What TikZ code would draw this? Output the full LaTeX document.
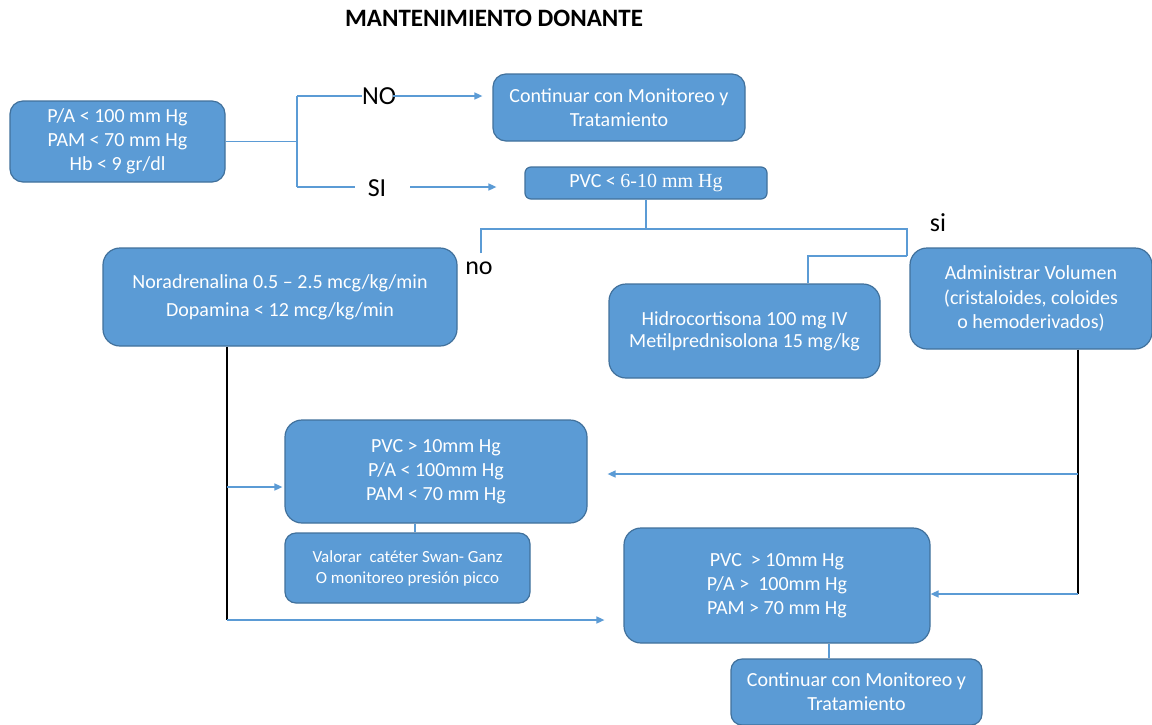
\documentclass[tikz,border=0pt]{standalone}
\usepackage{fontspec}
\setmainfont{Carlito}
\newfontfamily\serifx{Liberation Serif}
\usetikzlibrary{arrows.meta}
\definecolor{boxblue}{HTML}{5B9BD5}
\definecolor{boxedge}{HTML}{41719C}
\definecolor{linkblue}{HTML}{5B9BD5}
\begin{document}
\begin{tikzpicture}[x=1pt,y=-1pt,
  box/.style={draw=boxedge, line width=1.2pt, fill=boxblue, rounded corners=13pt,
    text=white, align=center, inner sep=0pt, font=\fontsize{20}{24}\selectfont},
  link/.style={draw=linkblue, line width=1.5pt},
  arr/.style={link, -{Triangle[length=8pt,width=7pt]}},
  blk/.style={draw=black, line width=1.5pt},
  lbl/.style={font=\fontsize{26}{28}\selectfont, inner sep=0pt}]
\useasboundingbox (0,0) rectangle (1152,724);
\fill[white] (0,0) rectangle (1152,724);

\node[font=\fontsize{25}{28}\selectfont\bfseries, inner sep=0pt] (title) at (494,18) {MANTENIMIENTO DONANTE};

% boxes
\node[box, minimum width=215, minimum height=81] (A) at (117.5,141.5)
  {P/A < 100 mm Hg\\PAM < 70 mm Hg\\Hb < 9 gr/dl};
\node[box, minimum width=252, minimum height=67] (B) at (619,107.5)
  {Continuar con Monitoreo y\\Tratamiento};
\node[box, rounded corners=6pt, minimum width=242, minimum height=32, font=\fontsize{20}{22}\selectfont] (C) at (646,183)
  {PVC < {\serifx 6-10 mm Hg}};
\node[box, rounded corners=17pt, minimum width=354, minimum height=98, font=\fontsize{20}{28}\selectfont] (D) at (280,297)
  {Noradrenalina 0.5 – 2.5 mcg/kg/min\\Dopamina < 12 mcg/kg/min};
\node[box, rounded corners=17pt, minimum width=271, minimum height=94, font=\fontsize{20}{22}\selectfont] (E) at (744.5,331)
  {Hidrocortisona 100 mg IV\\Metilprednisolona 15 mg/kg};
\node[box, rounded corners=17pt, minimum width=242, minimum height=101, font=\fontsize{20}{24.5}\selectfont] (F) at (1031,298.5)
  {Administrar Volumen\\(cristaloides, coloides\\o hemoderivados)};
\node[box, rounded corners=17pt, minimum width=302, minimum height=103] (G) at (436,471.5)
  {PVC > 10mm Hg\\P/A < 100mm Hg\\PAM < 70 mm Hg};
\node[box, rounded corners=11pt, minimum width=245, minimum height=70, font=\fontsize{17}{21}\selectfont] (H) at (407.5,568)
  {Valorar \ catéter Swan- Ganz\\O monitoreo presión picco};
\node[box, rounded corners=17pt, minimum width=306, minimum height=115] (I) at (777,585.5)
  {PVC \ > 10mm Hg\\P/A > \ 100mm Hg\\PAM > 70 mm Hg};
\node[box, rounded corners=11pt, minimum width=251, minimum height=66] (J) at (856.5,692)
  {Continuar con Monitoreo y\\Tratamiento};

% labels
\node[lbl] (NO) at (379,96) {NO};
\node[lbl] (SI) at (377,188) {SI};
\node[lbl] (no) at (479,268) {no};
\node[lbl] (si) at (938,223) {si};

% junctions
\coordinate (jA) at (297,141.5);
\coordinate (jNO) at (297,96);
\coordinate (jSI) at (297,187);
\coordinate (jC) at (647,229);
\coordinate (jL) at (481,229);
\coordinate (jLb) at (481,253);
\coordinate (jR) at (907,229);
\coordinate (jRb) at (907,256);
\coordinate (jE) at (808,256);
\coordinate (dD) at (227,620);
\coordinate (dDm) at (227,487);
\coordinate (dF) at (1078,594);
\coordinate (dFm) at (1078,474);
\coordinate (siA) at (355,187);
\coordinate (siB) at (410,187);

% connectors
\draw[link] (A.east) -- (jA);
\draw[link] (jNO) -- (jSI);
\draw[link] (jNO) -- (NO.west);
\draw[link] (jSI) -- (siA);
\draw[arr, shorten >=10pt] ([xshift=-3pt]NO.east) -- (B.west |- NO.east);
\draw[arr, shorten >=28pt] (siB) -- (C.west |- siB);
\draw[link] (C.south) -- (C.south |- jC);
\draw[link] (jLb) -- (jL) -- (jR) -- (jRb);
\draw[link] (jRb) -- (jE) -- (E.north -| jE);

\draw[blk] (D.south -| dD) -- (dD);
\draw[arr, shorten >=2pt] (dDm) -- (G.west |- dDm);
\draw[arr, shorten >=19pt] (dD) -- (I.west |- dD);

\draw[blk] (F.south -| dF) -- (dF);
\draw[arr, shorten >=20pt] (dFm) -- (G.east |- dFm);
\draw[arr] (dF) -- (I.east |- dF);

\coordinate (gh) at (415,0);
\coordinate (ij) at (829,0);
\draw[link] (G.south -| gh) -- (H.north -| gh);
\draw[link] (I.south -| ij) -- (J.north -| ij);
\end{tikzpicture}
\end{document}
